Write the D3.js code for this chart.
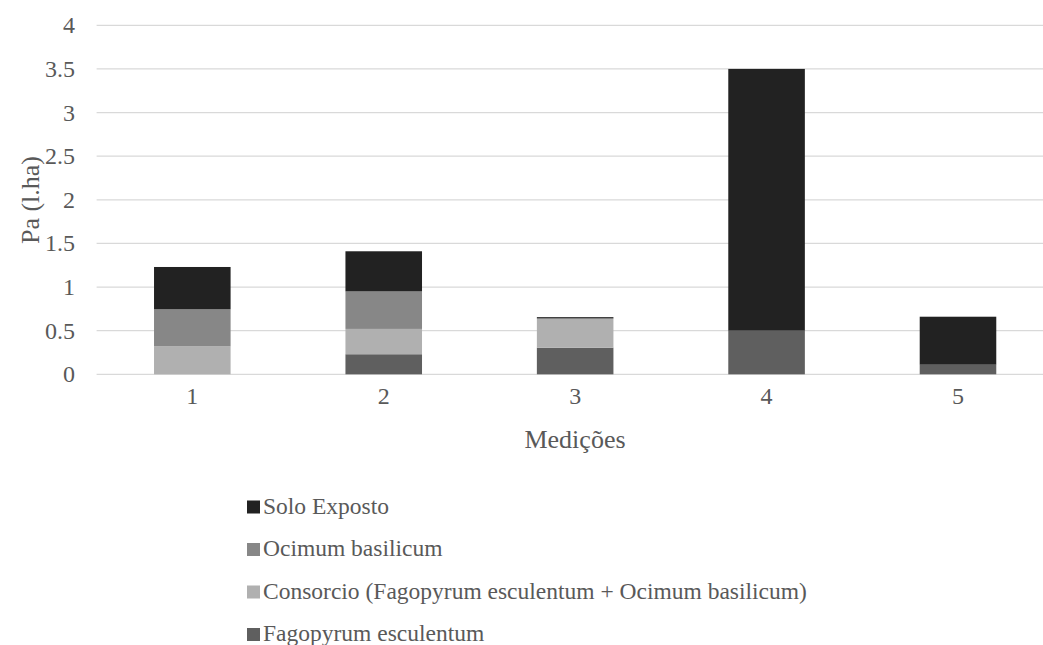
<!DOCTYPE html>
<html>
<head>
<meta charset="utf-8">
<script src="https://cdn.jsdelivr.net/npm/d3@7"></script>
</head>
<body style="margin:0;padding:0;background:#fff">
<svg id="chart" width="1043" height="645" style="display:block"></svg>
<script>
// Measurement rounds on the x axis
const categories = ["1", "2", "3", "4", "5"];

// Stacked series, bottom to top
const seriesNames = [
  "Fagopyrum esculentum",
  "Consorcio (Fagopyrum esculentum + Ocimum basilicum)",
  "Ocimum basilicum",
  "Solo Exposto"
];
const fagopyrum = [0, 0.23, 0.305, 0.5, 0.11];
const consorcio = [0.32, 0.29, 0.335, 0, 0];
const ocimum = [0.425, 0.43, 0, 0, 0];
const soloExposto = [0.485, 0.46, 0.015, 3.0, 0.55];

const yTicks = [0, 0.5, 1, 1.5, 2, 2.5, 3, 3.5, 4];
const legendOrder = ["Solo Exposto", "Ocimum basilicum",
  "Consorcio (Fagopyrum esculentum + Ocimum basilicum)", "Fagopyrum esculentum"];

const colors = {
  "Fagopyrum esculentum": "#5f5f5f",
  "Consorcio (Fagopyrum esculentum + Ocimum basilicum)": "#b0b0b0",
  "Ocimum basilicum": "#878787",
  "Solo Exposto": "#222222"
};

const FONT = '"Liberation Serif"';
const TEXT_COLOR = "#595959";

const rows = categories.map((c, i) => ({
  cat: c,
  "Fagopyrum esculentum": fagopyrum[i],
  "Consorcio (Fagopyrum esculentum + Ocimum basilicum)": consorcio[i],
  "Ocimum basilicum": ocimum[i],
  "Solo Exposto": soloExposto[i]
}));

const svg = d3.select("#chart");
const plot = { left: 96.6, right: 1053.7, top: 25.3, bottom: 374.3 };

const x = d3.scaleBand().domain(categories).range([plot.left, plot.right]).paddingInner(0.6).paddingOuter(0.3);
const y = d3.scaleLinear().domain([0, 4]).range([plot.bottom, plot.top]);

// Gridlines
svg.append("g")
  .selectAll("line")
  .data(yTicks)
  .join("line")
  .attr("x1", plot.left).attr("x2", 1043)
  .attr("y1", d => y(d)).attr("y2", d => y(d))
  .attr("stroke", "#d9d9d9").attr("stroke-width", 1.3);

// Y tick labels
svg.append("g")
  .selectAll("text")
  .data(yTicks)
  .join("text")
  .style("font-family", FONT)
  .attr("x", 75).attr("y", d => y(d) + 8)
  .attr("text-anchor", "end")
  .attr("font-size", 24)
  .attr("fill", TEXT_COLOR)
  .text(d => d);

// Stacked bars
const stack = d3.stack().keys(seriesNames);
const layers = stack(rows);
svg.append("g")
  .selectAll("g")
  .data(layers)
  .join("g")
  .attr("fill", d => colors[d.key])
  .selectAll("rect")
  .data(d => d)
  .join("rect")
  .attr("x", d => x(d.data.cat))
  .attr("width", x.bandwidth())
  .attr("y", d => y(d[1]))
  .attr("height", d => Math.max(0, y(d[0]) - y(d[1])));

// X tick labels
svg.append("g")
  .selectAll("text")
  .data(categories)
  .join("text")
  .style("font-family", FONT)
  .attr("x", d => x(d) + x.bandwidth() / 2)
  .attr("y", 404)
  .attr("text-anchor", "middle")
  .attr("font-size", 24)
  .attr("fill", TEXT_COLOR)
  .text(d => d);

// Axis titles
svg.append("text")
  .style("font-family", FONT)
  .attr("x", 575).attr("y", 448)
  .attr("text-anchor", "middle")
  .attr("font-size", 26)
  .attr("fill", TEXT_COLOR)
  .text("Medições");

svg.append("text")
  .style("font-family", FONT)
  .attr("transform", "translate(39,200) rotate(-90)")
  .attr("text-anchor", "middle")
  .attr("font-size", 26)
  .attr("fill", TEXT_COLOR)
  .text("Pa (l.ha)");

// Legend
const legend = svg.append("g")
  .selectAll("g")
  .data(legendOrder)
  .join("g")
  .attr("transform", (d, i) => `translate(247,${513.5 + i * 42.5})`);
legend.append("rect")
  .attr("x", 0).attr("y", -13).attr("width", 13).attr("height", 13)
  .attr("fill", d => colors[d]);
legend.append("text")
  .style("font-family", FONT)
  .attr("x", 16).attr("y", 0)
  .attr("font-size", 23.5)
  .attr("fill", TEXT_COLOR)
  .text(d => d);
</script>
</body>
</html>
